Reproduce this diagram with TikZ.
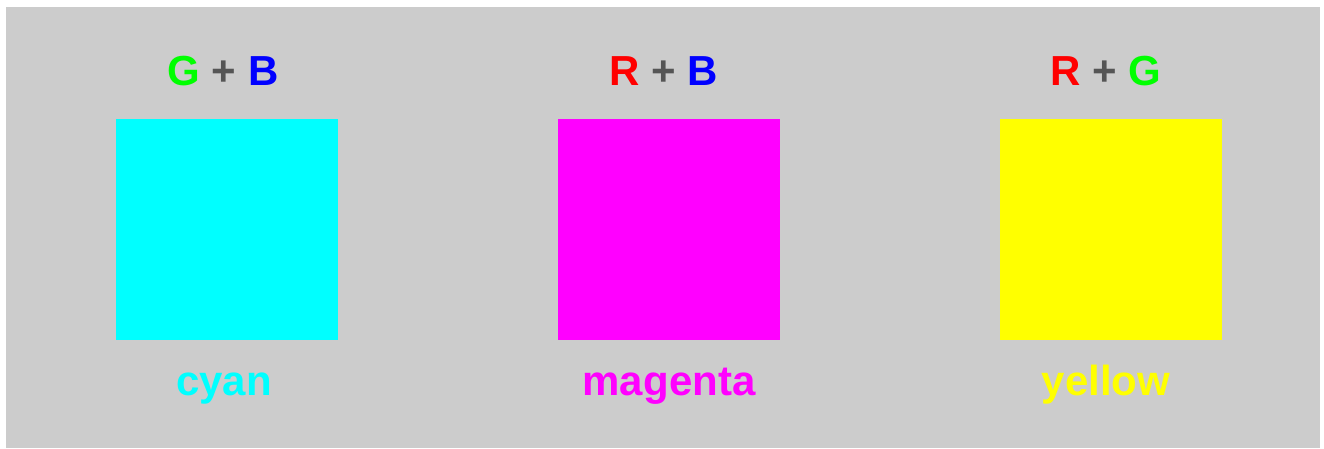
\documentclass[tikz,border=0pt]{standalone}
\usepackage{fontspec}
\setmainfont{Liberation Sans}
\usepackage{xcolor}
\usetikzlibrary{positioning}

\definecolor{bggray}{HTML}{CCCCCC}
\definecolor{plusgray}{HTML}{555555}
\definecolor{cR}{HTML}{FF0000}
\definecolor{cG}{HTML}{00FF00}
\definecolor{cB}{HTML}{0000FF}
\definecolor{cC}{HTML}{00FFFF}
\definecolor{cM}{HTML}{FF00FF}
\definecolor{cY}{HTML}{FFFF00}

\tikzset{
  swatch/.style={rectangle, inner sep=0pt, minimum width=222pt, minimum height=221pt, fill=#1},
  mixlabel/.style={anchor=base, inner sep=0pt, font=\fontsize{42}{42}\selectfont\bfseries},
  namelabel/.style={anchor=base, inner sep=0pt, text=#1, font=\fontsize{42}{42}\selectfont\bfseries}
}

\begin{document}
\begin{tikzpicture}[x=1pt, y=-1pt]

% Background
\fill[white] (0,0) rectangle (1324,448);
\fill[bggray] (6,7) rectangle (1320,448);
\useasboundingbox (0,0) rectangle (1324,448);

% Colour swatches
\node[swatch=cC] (cyanbox) at (227,229.5) {};
\node[swatch=cM] (magbox) at (668.5,229.5) {};
\node[swatch=cY] (yelbox) at (1110.5,229.5) {};

% Mixing labels
\node[mixlabel] (cyanmix) at (223,85) {\textcolor{cG}{G} \textcolor{plusgray}{+} \textcolor{cB}{B}};
\node[mixlabel] (magmix) at (664,85) {\textcolor{cR}{R} \textcolor{plusgray}{+} \textcolor{cB}{B}};
\node[mixlabel] (yelmix) at (1106,85) {\textcolor{cR}{R} \textcolor{plusgray}{+} \textcolor{cG}{G}};

% Colour names
\node[namelabel=cC] (cyanname) at (224,395) {cyan};
\node[namelabel=cM] (magname) at (669,395) {magenta};
\node[namelabel=cY] (yelname) at (1106,395) {yellow};

\end{tikzpicture}
\end{document}
